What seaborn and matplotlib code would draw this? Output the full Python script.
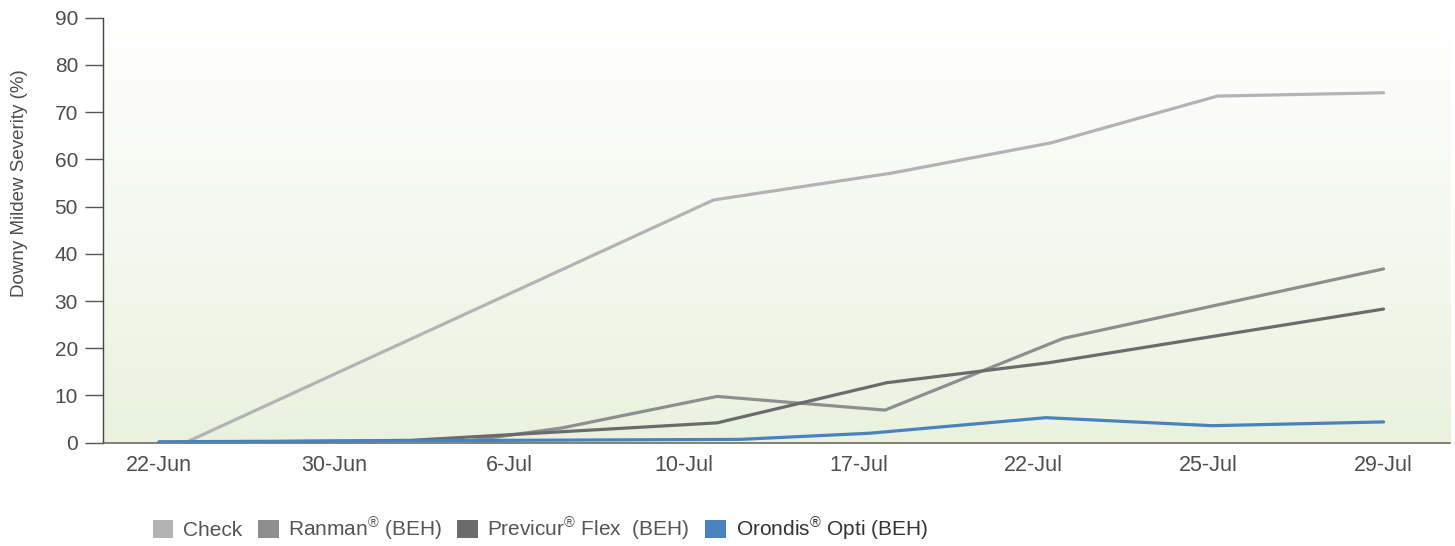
import numpy as np
import pandas as pd
import matplotlib.pyplot as plt
import seaborn as sns
from matplotlib.patches import Patch
from matplotlib.colors import LinearSegmentedColormap

# category labels on the x axis
dates = ['22-Jun', '30-Jun', '6-Jul', '10-Jul', '17-Jul', '22-Jul', '25-Jul', '29-Jul']

# each series: x position (in category units) and severity %
check_x = [0.15, 3.17, 4.19, 5.10, 6.05, 7.0]
check_y = [0.0, 51.4, 57.1, 63.5, 73.4, 74.1]

ranman_x = [0.0, 1.75, 2.30, 3.19, 4.15, 5.17, 7.0]
ranman_y = [0.0, 0.3, 3.1, 9.8, 6.9, 22.1, 36.8]

previcur_x = [0.0, 1.44, 3.19, 4.16, 5.08, 7.0]
previcur_y = [0.0, 0.5, 4.2, 12.7, 16.9, 28.3]

orondis_x = [0.0, 3.32, 4.06, 5.07, 6.02, 7.0]
orondis_y = [0.2, 0.7, 2.0, 5.3, 3.6, 4.4]

names = ['Check', 'Ranman', 'Previcur', 'Orondis']
colors = ['#b3b3b6', '#8e8e91', '#6b6b6e', '#4a82bd']
legend_labels = ['Check', r'Ranman$^{\circledR}$ (BEH)',
                 r'Previcur$^{\circledR}$ Flex  (BEH)', r'Orondis$^{\circledR}$ Opti (BEH)']

frames = []
for name, xs, ys in zip(names,
                        [check_x, ranman_x, previcur_x, orondis_x],
                        [check_y, ranman_y, previcur_y, orondis_y]):
    frames.append(pd.DataFrame({'x': xs, 'sev': ys, 'series': name}))
df = pd.concat(frames, ignore_index=True)

sns.set_style('white')
plt.rcParams['font.family'] = ['Liberation Sans', 'DejaVu Sans']
plt.rcParams['mathtext.fontset'] = 'custom'
plt.rcParams['mathtext.rm'] = 'Liberation Sans'
plt.rcParams['mathtext.it'] = 'Liberation Sans'

fig = plt.figure(figsize=(14.55, 5.46), dpi=100)
ax = fig.add_axes([0.0708, 0.1892, 0.9258, 0.7784])

# soft white-to-green background gradient
grad = np.linspace(0, 1, 256).reshape(-1, 1)
cmap = LinearSegmentedColormap.from_list('bg', [(0, '#eaf2df'), (0.8, '#fbfcf9'), (1, '#ffffff')])
ax.imshow(grad, aspect='auto', cmap=cmap, origin='lower', extent=[0, 1, 0, 1],
          transform=ax.transAxes, zorder=0)

sns.lineplot(data=df, x='x', y='sev', hue='series', hue_order=names,
             palette=dict(zip(names, colors)), sort=False, estimator=None,
             linewidth=2.3, legend=False, ax=ax, zorder=3)

ax.set_xlim(-0.32, 7.38)
ax.set_ylim(0, 90)
ax.set_xticks(range(len(dates)))
ax.set_xticklabels(dates)
ax.set_yticks(range(0, 91, 10))
ax.tick_params(axis='x', length=0, pad=9, labelsize=15.5, labelcolor='#4d4d4d')
ax.tick_params(axis='y', length=13, width=1, color='#555555', pad=5,
               labelsize=15, labelcolor='#4d4d4d', left=True)
ax.set_xlabel('')
ax.set_ylabel('Downy Mildew Severity (%)', fontsize=13.5, color='#4d4d4d')
ax.yaxis.set_label_coords(-0.056, 0.611)

for s in ['top', 'right']:
    ax.spines[s].set_visible(False)
ax.spines['left'].set_color('#444444')
ax.spines['left'].set_linewidth(1)
ax.spines['bottom'].set_color('#6b6e5e')
ax.spines['bottom'].set_linewidth(1.2)

handles = [Patch(facecolor=c, edgecolor='none') for c in colors]
leg = fig.legend(handles, legend_labels, loc='lower left', bbox_to_anchor=(0.092, -0.028),
                 ncol=4, frameon=False, fontsize=15, handlelength=1.0, handleheight=1.0,
                 handletextpad=0.45, columnspacing=0.75)
for t, c in zip(leg.get_texts(), ['#555555', '#555555', '#555555', '#333333']):
    t.set_color(c)

fig.savefig('out.png', dpi=100)
